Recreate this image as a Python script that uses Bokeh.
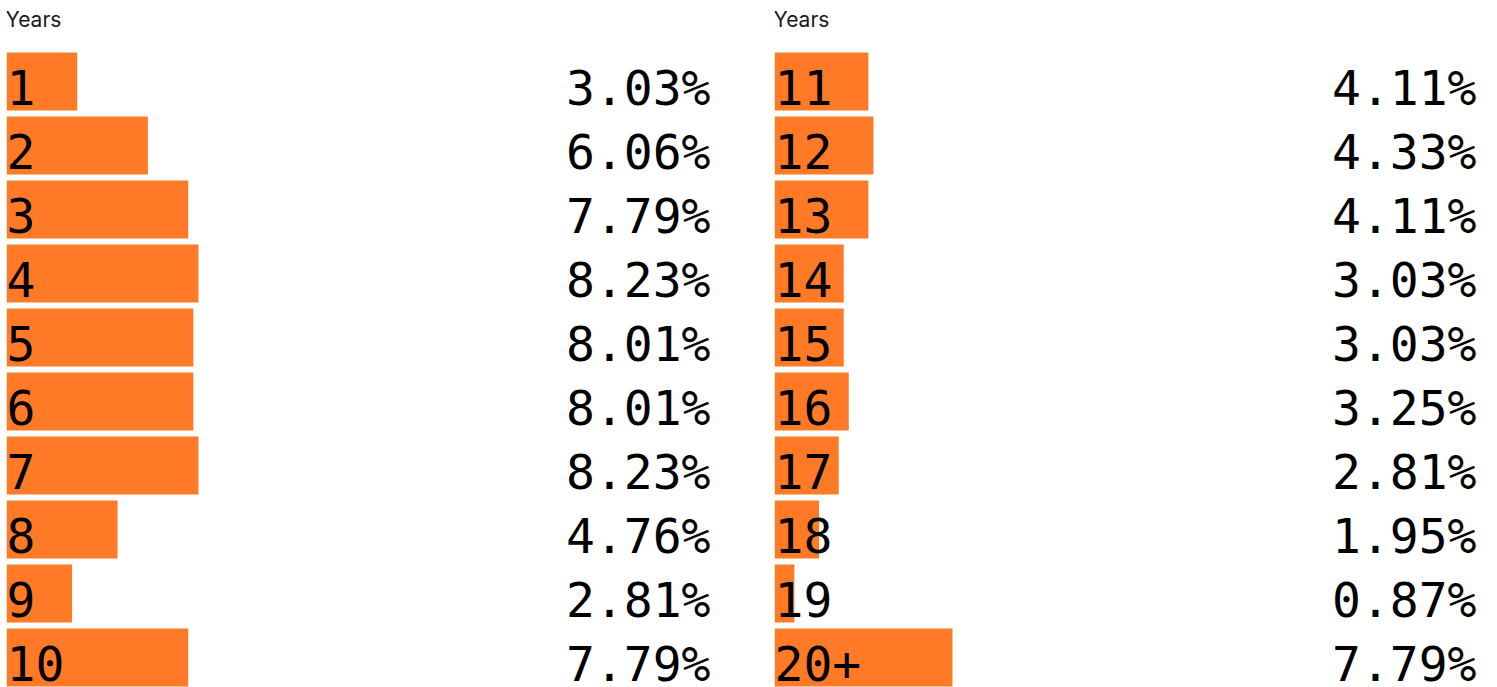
from bokeh.plotting import figure
from bokeh.layouts import row
from bokeh.models import Range1d, ColumnDataSource, Label
from bokeh.core.properties import value
from bokeh.embed import file_html
from bokeh.resources import INLINE

left_years = ["1", "2", "3", "4", "5", "6", "7", "8", "9", "10"]
left_pct = [3.03, 6.06, 7.79, 8.23, 8.01, 8.01, 8.23, 4.76, 2.81, 7.79]
right_years = ["11", "12", "13", "14", "15", "16", "17", "18", "19", "20+"]
right_pct = [4.11, 4.33, 4.11, 3.03, 3.03, 3.25, 2.81, 1.95, 0.87, 7.79]

ORANGE = "#FE7A27"
HEIGHT = 679
ROW_PX = 64


def panel(years, pct, width, px_per_pct, pct_right_pad):
    n = len(years)
    ys = list(range(n))
    top_units = 73 / ROW_PX
    span = HEIGHT / ROW_PX
    p = figure(width=width, height=HEIGHT, output_backend="svg", toolbar_location=None,
               x_range=Range1d(0, width / px_per_pct),
               y_range=Range1d(span - top_units, -top_units),
               min_border=0, min_border_left=0, min_border_right=0,
               min_border_top=0, min_border_bottom=0)
    p.axis.visible = False
    p.grid.visible = False
    p.outline_line_color = None
    p.background_fill_color = "white"
    p.border_fill_color = "white"
    src = ColumnDataSource(dict(y=ys, v=pct, yr=years,
                                lab=["%.2f%%" % v for v in pct],
                                xr=[width / px_per_pct] * n))
    p.hbar(y="y", right="v", left=0, height=58 / ROW_PX, source=src,
           fill_color=ORANGE, line_color=None)
    p.text(x=0, y="y", text="yr", source=src, text_font=value("DejaVu Sans Mono"),
           text_font_size="48px", text_color="black", text_align="left",
           text_baseline="alphabetic", y_offset=6)
    p.text(x="xr", y="y", text="lab", source=src, text_font=value("DejaVu Sans Mono"),
           text_font_size="48px", text_color="black", text_align="right",
           text_baseline="alphabetic", y_offset=6, x_offset=-pct_right_pad - 2)
    p.add_layout(Label(x=-1, y=HEIGHT - 11, x_units="screen", y_units="screen", text="Years",
                       text_font="Inter", text_font_size="21px", text_color="#1a1a1a",
                       text_baseline="alphabetic"))
    return p


p1 = panel(left_years, left_pct, 768, 192 / 8.23, 62)
p2 = panel(right_years, right_pct, 715, 178 / 7.79, 11)
layout = row(p1, p2, spacing=0, margin=(8, 0, 0, 6))
open("out.html", "w").write(file_html(layout, INLINE))
